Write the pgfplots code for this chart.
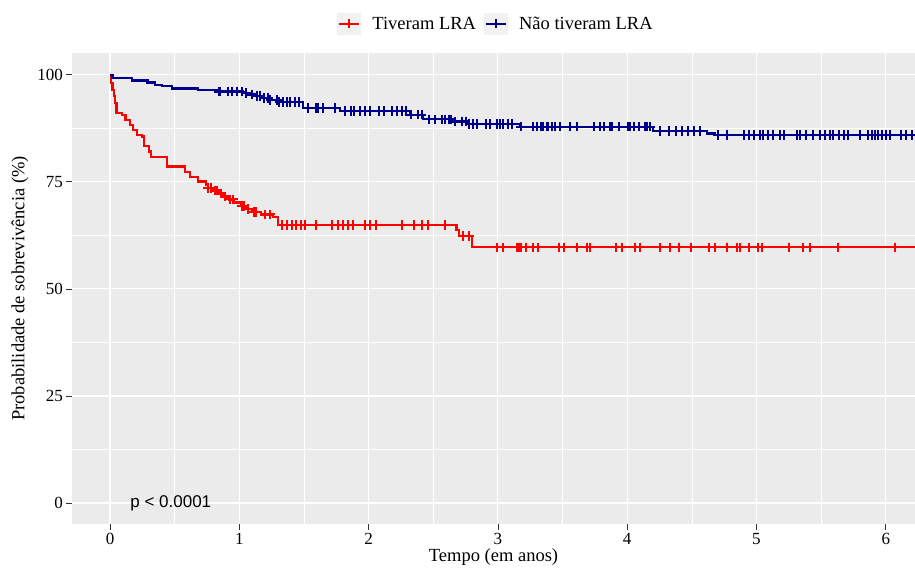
\documentclass[border=0pt]{standalone}
\usepackage{fontspec}
\setmainfont{Liberation Serif}
\newfontfamily\pfont{Liberation Sans}
\usepackage{pgfplots}
\pgfplotsset{compat=1.18}
\definecolor{panel}{HTML}{EBEBEB}
\definecolor{keybg}{HTML}{F2F2F2}
\definecolor{lra}{HTML}{FF0000}
\definecolor{nolra}{HTML}{00008B}
\definecolor{tickgray}{HTML}{333333}

\begin{document}
\begin{tikzpicture}
\begin{axis}[
  at={(72pt,44pt)}, anchor=south west,
  width=843pt, height=471pt, scale only axis,
  xmin=-0.294, xmax=6.226, ymin=-4.9, ymax=105.1,
  axis lines*=left, axis line style={draw=none},
  xtick={0,1,2,3,4,5,6}, ytick={0,25,50,75,100},
  minor x tick num=1, minor y tick num=1,
  grid=both,
  major grid style={white, line width=1.1pt},
  minor grid style={white, line width=0.55pt},
  axis background/.style={fill=panel},
  tick align=outside, major tick length=5.5pt, minor tick length=0pt,
  tick style={tickgray, line width=0.8pt},
  /pgf/number format/assume math mode=true,
  ticklabel style={font=\fontsize{17}{17}\selectfont, text=black},
  xlabel={Tempo (em anos)},
  ylabel={Probabilidade de sobrevivência (\%)},
  label style={font=\fontsize{18.5}{18.5}\selectfont},
  xlabel style={at={(axis description cs:0.5,-0.080)}, anchor=base},
  ylabel style={at={(axis description cs:-0.0617,0.5)}, anchor=center},
  legend style={at={(axis description cs:0.503,1.0616)}, anchor=center,
    draw=none, fill=none, legend columns=2, inner sep=0pt,
    font=\fontsize{18.5}{18.5}\selectfont,
    /tikz/every odd column/.append style={column sep=9pt},
    /tikz/every even column/.append style={column sep=6pt}},
  clip mode=individual,
]
% legend keys: grey square with line and censoring cross
\addlegendimage{lra, line width=2pt, legend image code/.code={
  \fill[keybg] (0pt,-10pt) rectangle (22pt,10pt);
  \draw (1pt,0pt) -- (21pt,0pt);
  \draw (11pt,-4.5pt) -- (11pt,4.5pt);}}
\addlegendentry{Tiveram LRA}
\addlegendimage{nolra, line width=2pt, legend image code/.code={
  \fill[keybg] (0pt,-10pt) rectangle (22pt,10pt);
  \draw (1pt,0pt) -- (21pt,0pt);
  \draw (11pt,-4.5pt) -- (11pt,4.5pt);}}
\addlegendentry{Não tiveram LRA}

% Kaplan-Meier curve: Tiveram LRA
\addplot[const plot, color=lra, line width=2.2pt, forget plot] coordinates {
 (0,100) (0.01,98) (0.02,96.5) (0.03,95) (0.04,93.5) (0.05,91.0)
 (0.09,90.6) (0.12,89.5) (0.155,88.3) (0.18,87.1) (0.21,86.0)
 (0.245,85.6) (0.26,83.3) (0.30,82.1) (0.32,80.9) (0.44,78.6)
 (0.58,77.4) (0.62,76.1) (0.68,75.1) (0.74,74.2) (0.76,73.6)
 (0.80,73.0) (0.84,72.3) (0.87,71.6) (0.92,70.9) (0.96,70.2)
 (1.01,69.4) (1.05,68.7) (1.10,68.0) (1.17,67.4) (1.26,66.8)
 (1.30,65.0) (2.68,63.8) (2.70,62.4) (2.80,59.7) (6.3,59.7)
};
% censored observations: Tiveram LRA
\addplot[only marks, mark=+, mark size=4.8pt, color=lra, line width=2pt, forget plot] coordinates {
 (0.76,73.6) (0.78,73.6) (0.81,73.0) (0.83,73.0) (0.86,72.3) (0.89,71.6)
 (0.93,70.9) (0.95,70.9) (1.02,69.4) (1.04,69.4) (1.07,68.7) (1.11,68.0)
 (1.13,68.0) (1.20,67.4) (1.24,67.4)
 (1.33,65.0) (1.37,65.0) (1.41,65.0) (1.44,65.0) (1.48,65.0) (1.51,65.0)
 (1.59,65.0) (1.72,65.0) (1.76,65.0) (1.80,65.0) (1.84,65.0) (1.88,65.0)
 (1.97,65.0) (2.01,65.0) (2.06,65.0) (2.26,65.0) (2.35,65.0) (2.41,65.0)
 (2.46,65.0) (2.59,65.0)
 (2.73,62.4) (2.78,62.4)
 (2.99,59.7) (3.04,59.7) (3.15,59.7) (3.16,59.7) (3.18,59.7) (3.22,59.7)
 (3.27,59.7) (3.31,59.7) (3.47,59.7) (3.51,59.7) (3.61,59.7) (3.69,59.7)
 (3.71,59.7) (3.91,59.7) (3.96,59.7) (4.06,59.7) (4.10,59.7) (4.25,59.7)
 (4.33,59.7) (4.40,59.7) (4.49,59.7) (4.63,59.7) (4.68,59.7) (4.77,59.7)
 (4.85,59.7) (4.87,59.7) (4.94,59.7) (5.01,59.7) (5.04,59.7) (5.25,59.7)
 (5.36,59.7) (5.41,59.7) (5.63,59.7) (6.07,59.7)
};

% Kaplan-Meier curve: Não tiveram LRA
\addplot[const plot, color=nolra, line width=2.2pt, forget plot] coordinates {
 (0,100) (0.02,99.2) (0.17,98.7) (0.29,98.2) (0.35,97.7) (0.40,97.3)
 (0.48,96.8) (0.68,96.4) (0.84,96.1) (1.03,95.8) (1.08,95.4) (1.13,95.0)
 (1.19,94.6) (1.24,94.1) (1.30,93.6) (1.49,92.2) (1.78,91.5) (2.32,90.7)
 (2.42,89.6) (2.65,89.1) (2.76,88.5) (3.17,87.9) (4.20,86.9) (4.62,86.3)
 (4.68,86.0) (6.3,86.0)
};
% censored observations: Não tiveram LRA
\addplot[only marks, mark=+, mark size=4.8pt, color=nolra, line width=2pt, forget plot] coordinates {
 (0.84,96.1) (0.85,96.1) (0.91,96.1) (0.94,96.1) (0.98,96.1) (1.02,96.1)
 (1.05,95.8) (1.10,95.4) (1.14,95.0) (1.16,95.0) (1.19,94.6) (1.22,94.6)
 (1.24,94.1) (1.29,94.1)
 (1.31,93.6) (1.34,93.6) (1.37,93.6) (1.39,93.6) (1.43,93.6) (1.46,93.6)
 (1.53,92.2) (1.59,92.2) (1.61,92.2) (1.65,92.2) (1.74,92.2)
 (1.82,91.5) (1.86,91.5) (1.89,91.5) (1.93,91.5) (1.97,91.5) (2.01,91.5)
 (2.08,91.5) (2.12,91.5) (2.18,91.5) (2.22,91.5) (2.26,91.5) (2.29,91.5)
 (2.33,90.7) (2.38,90.7) (2.41,90.7)
 (2.47,89.6) (2.51,89.6) (2.57,89.6) (2.59,89.6) (2.62,89.6) (2.64,89.6)
 (2.67,89.1) (2.72,89.1) (2.75,89.1)
 (2.78,88.5) (2.81,88.5) (2.84,88.5) (2.91,88.5) (2.94,88.5) (2.99,88.5)
 (3.02,88.5) (3.04,88.5) (3.08,88.5) (3.11,88.5)
 (3.18,87.9) (3.27,87.9) (3.30,87.9) (3.33,87.9) (3.35,87.9) (3.38,87.9)
 (3.39,87.9) (3.42,87.9) (3.44,87.9) (3.48,87.9) (3.56,87.9) (3.61,87.9)
 (3.74,87.9) (3.79,87.9) (3.82,87.9) (3.87,87.9) (3.88,87.9) (3.94,87.9)
 (4.01,87.9) (4.02,87.9) (4.05,87.9) (4.09,87.9) (4.14,87.9) (4.15,87.9)
 (4.18,87.9)
 (4.25,86.9) (4.32,86.9) (4.38,86.9) (4.42,86.9) (4.47,86.9) (4.52,86.9)
 (4.56,86.9)
 (4.70,86.0) (4.77,86.0) (4.90,86.0) (4.94,86.0) (4.98,86.0) (5.03,86.0)
 (5.05,86.0) (5.09,86.0) (5.13,86.0) (5.18,86.0) (5.21,86.0) (5.31,86.0)
 (5.34,86.0) (5.38,86.0) (5.44,86.0) (5.49,86.0) (5.53,86.0) (5.57,86.0)
 (5.59,86.0) (5.64,86.0) (5.68,86.0) (5.71,86.0) (5.80,86.0) (5.86,86.0)
 (5.89,86.0) (5.92,86.0) (5.94,86.0) (5.97,86.0) (6.00,86.0) (6.03,86.0)
 (6.12,86.0) (6.16,86.0) (6.20,86.0)
};

\node[anchor=west, font=\pfont\fontsize{17}{17}\selectfont] at (axis cs:0.13,0) {p < 0.0001};
\end{axis}
\pgfresetboundingbox
\useasboundingbox (0pt,0pt) rectangle (915pt,568pt);
\end{tikzpicture}
\end{document}
